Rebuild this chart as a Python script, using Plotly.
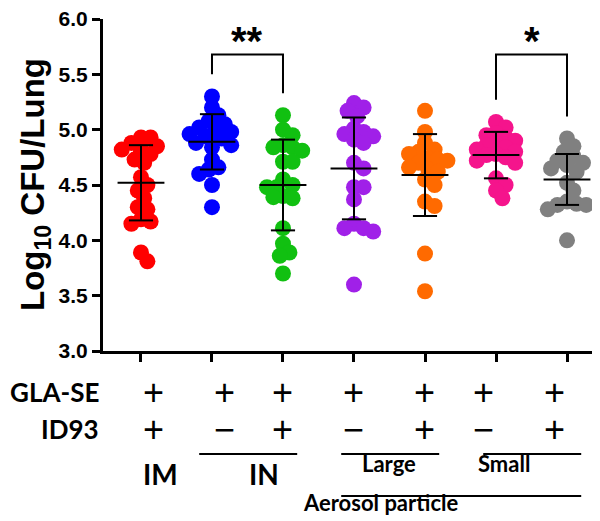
import numpy as np
import plotly.graph_objects as go

# groups (left to right)
group_pos = [1, 2, 3, 4, 5, 6, 7]
colors = ["#FF0000", "#0000FF", "#11C011", "#A020E8", "#FF6A00", "#F5148C", "#808080"]

red = [4.93, 4.93, 4.88, 4.85, 4.83, 4.82, 4.80, 4.78, 4.73, 4.70, 4.57, 4.50, 4.45,
       4.38, 4.30, 4.28, 4.19, 4.17, 4.15, 3.89, 3.81]
blue = [5.30, 5.20, 5.13, 5.08, 5.05, 5.02, 5.00, 4.98, 4.96, 4.94, 4.92, 4.90, 4.88,
        4.86, 4.84, 4.73, 4.66, 4.64, 4.60, 4.50, 4.30]
green = [5.13, 5.00, 4.95, 4.86, 4.84, 4.84, 4.81, 4.71, 4.71, 4.55, 4.50, 4.48, 4.48,
         4.40, 4.38, 4.39, 4.11, 3.97, 3.89, 3.86, 3.70]
purple = [5.24, 5.20, 5.17, 5.12, 5.01, 4.98, 4.96, 4.94, 4.91, 4.88, 4.70, 4.65, 4.48,
          4.48, 4.37, 4.15, 4.11, 4.11, 4.08, 3.60]
orange = [5.17, 4.98, 4.88, 4.82, 4.80, 4.78, 4.74, 4.73, 4.72, 4.70, 4.66, 4.64, 4.62,
          4.55, 4.50, 4.35, 4.31, 3.88, 3.54]
pink = [5.07, 5.02, 4.97, 4.95, 4.93, 4.90, 4.88, 4.86, 4.84, 4.82, 4.80, 4.78, 4.77,
        4.75, 4.72, 4.70, 4.56, 4.50, 4.45, 4.38]
gray = [4.92, 4.85, 4.80, 4.76, 4.72, 4.70, 4.68, 4.65, 4.62, 4.52, 4.45, 4.35, 4.33,
        4.32, 4.32, 4.28, 4.00]
series = [red, blue, green, purple, orange, pink, gray]

# mean and SD
means = [4.52, 4.89, 4.50, 4.65, 4.59, 4.77, 4.55]
sds = [0.34, 0.25, 0.41, 0.46, 0.37, 0.21, 0.23]

# significance comparisons (group a, group b, label)
comparisons = [(2, 3, "**"), (6, 7, "*")]

gla_se = ["+", "+", "+", "+", "+", "+", "+"]
id93 = ["+", "\u2212", "+", "\u2212", "+", "\u2212", "+"]

W, H = 600, 521
ML, MR, MT, MB = 95, 5, 11, 178
PW, PH = W - ML - MR, H - MT - MB
XR = [0.465, 7.507]
YR = [3.0, 6.0]
px_x = PW / (XR[1] - XR[0])
px_y = PH / (YR[1] - YR[0])
DOT = 16


def swarm(vals):
    # simple beeswarm, offsets in x data units
    placed = []
    offs = []
    mind = DOT * 0.6
    for v in vals:
        yp = v * px_y
        o_ok = 0
        for k in range(0, 40):
            o = ((k + 1) // 2) * (DOT / 5.0) * (1 if k % 2 else -1)
            if abs(o) > 24:
                continue
            if all((o - po) ** 2 + (yp - py) ** 2 >= mind ** 2 for po, py in placed):
                o_ok = o
                break
        placed.append((o_ok, yp))
        offs.append(o_ok / px_x)
    return offs


def xp(v):
    return (v - XR[0]) / (XR[1] - XR[0])


def yp(pix):
    # pixel row -> paper y
    return (MT + PH - pix) / PH


fig = go.Figure()

for g, vals, c in zip(group_pos, series, colors):
    offs = swarm(vals)
    fig.add_trace(go.Scatter(x=[g + o for o in offs], y=vals, mode="markers",
                             marker=dict(size=DOT, color=c, line=dict(width=0)),
                             hoverinfo="y", showlegend=False))

# mean lines and SD bars
mx, my = [], []
sx, sy = [], []
for g, m, s in zip(group_pos, means, sds):
    mx += [g - 0.33, g + 0.33, None]
    my += [m, m, None]
    sx += [g, g, None, g - 0.17, g + 0.17, None, g - 0.17, g + 0.17, None]
    sy += [m - s, m + s, None, m + s, m + s, None, m - s, m - s, None]
fig.add_trace(go.Scatter(x=mx, y=my, mode="lines", line=dict(color="black", width=2),
                         hoverinfo="skip", showlegend=False))
fig.add_trace(go.Scatter(x=sx, y=sy, mode="lines", line=dict(color="black", width=2),
                         hoverinfo="skip", showlegend=False))

# significance brackets
bx, by = [], []
top = 5.68
for a, b, lab in comparisons:
    la = max(series[a - 1]) + 0.2
    lb = max(series[b - 1]) + 0.2
    bx += [a, a, b, b, None]
    by += [la, top, top, lb, None]
    fig.add_annotation(x=(a + b) / 2, y=top + 0.12, text="<b>%s</b>" % lab, showarrow=False,
                       yanchor="middle", font=dict(family="Liberation Sans", size=40, color="black"))
fig.add_trace(go.Scatter(x=bx, y=by, mode="lines", line=dict(color="black", width=2),
                         hoverinfo="skip", showlegend=False))

lab_font = dict(family="Lato", size=26, color="black")
route_font = dict(family="Lato", size=28, color="black")
sign_font = dict(family="Liberation Sans", size=36, color="black")
sub_font = dict(family="Lato", size=22, color="black")

ROW1, ROW2, ROW_LINE, ROW_SUB, ROW_AER_LINE, ROW_ROUTE, ROW_AER = 384, 421, 446, 471, 488, 485, 510

fig.add_annotation(x=(93 - ML) / PW, y=yp(ROW1), xref="paper", yref="paper", text="<b>GLA-SE</b>",
                   showarrow=False, xanchor="right", yanchor="middle", font=lab_font)
fig.add_annotation(x=(93 - ML) / PW, y=yp(ROW2), xref="paper", yref="paper", text="<b>ID93</b>",
                   showarrow=False, xanchor="right", yanchor="middle", font=lab_font)
for g, s1, s2 in zip(group_pos, gla_se, id93):
    fig.add_annotation(x=xp(g), y=yp(ROW1), xref="paper", yref="paper", text=s1, height=30,
                       showarrow=False, yanchor="middle", font=sign_font)
    fig.add_annotation(x=xp(g), y=yp(ROW2), xref="paper", yref="paper", text=s2, height=30,
                       showarrow=False, yanchor="middle", font=sign_font)

# route brackets under the table
for a, b, row in [(2, 3, ROW_LINE), (4, 5, ROW_LINE), (6, 7, ROW_LINE), (4, 7, ROW_AER_LINE)]:
    fig.add_shape(type="line", xref="paper", yref="paper",
                  x0=xp(a - 0.18), x1=xp(b + 0.2), y0=yp(row), y1=yp(row),
                  line=dict(color="black", width=2))

fig.add_annotation(x=xp(4.5), y=yp(ROW_SUB), xref="paper", yref="paper", text="<b>Large</b>",
                   showarrow=False, font=sub_font)
fig.add_annotation(x=xp(6.5), y=yp(ROW_SUB), xref="paper", yref="paper", text="<b>Small</b>",
                   showarrow=False, font=sub_font)
fig.add_annotation(x=xp(1), y=yp(ROW_ROUTE), xref="paper", yref="paper", text="<b>IM</b>",
                   showarrow=False, font=route_font)
fig.add_annotation(x=xp(2.5), y=yp(ROW_ROUTE), xref="paper", yref="paper", text="<b>IN</b>",
                   showarrow=False, font=route_font)
fig.add_annotation(x=xp(5.5), y=yp(ROW_AER), xref="paper", yref="paper", text="<b>Aerosol particle</b>",
                   showarrow=False, font=sub_font)

# y axis title
fig.add_annotation(x=(27 - ML) / PW, y=0.5, xref="paper", yref="paper", textangle=-90,
                   xanchor="center", yanchor="middle",
                   text="<b>Log<sub>10</sub> CFU/Lung</b>", showarrow=False,
                   font=dict(family="Liberation Sans", size=33, color="black"))

fig.update_xaxes(range=XR, tickvals=group_pos, showticklabels=False, ticks="outside",
                 ticklen=8, tickwidth=2.5, tickcolor="black", showline=True, linewidth=3,
                 linecolor="black", showgrid=False, zeroline=False)
fig.update_yaxes(range=YR, tickvals=[3.0, 3.5, 4.0, 4.5, 5.0, 5.5, 6.0], tickformat=".1f",
                 ticks="outside", ticklen=8, tickwidth=2.5, tickcolor="black", showline=True,
                 linewidth=3, linecolor="black", showgrid=False, zeroline=False,
                 ticklabeloverflow="allow",
                 tickfont=dict(family="Liberation Sans", size=21, color="black", weight="bold"))

fig.update_layout(width=W, height=H, margin=dict(l=ML, r=MR, t=MT, b=MB, autoexpand=False),
                  plot_bgcolor="white", paper_bgcolor="white", showlegend=False)

fig.write_html("out.html")
